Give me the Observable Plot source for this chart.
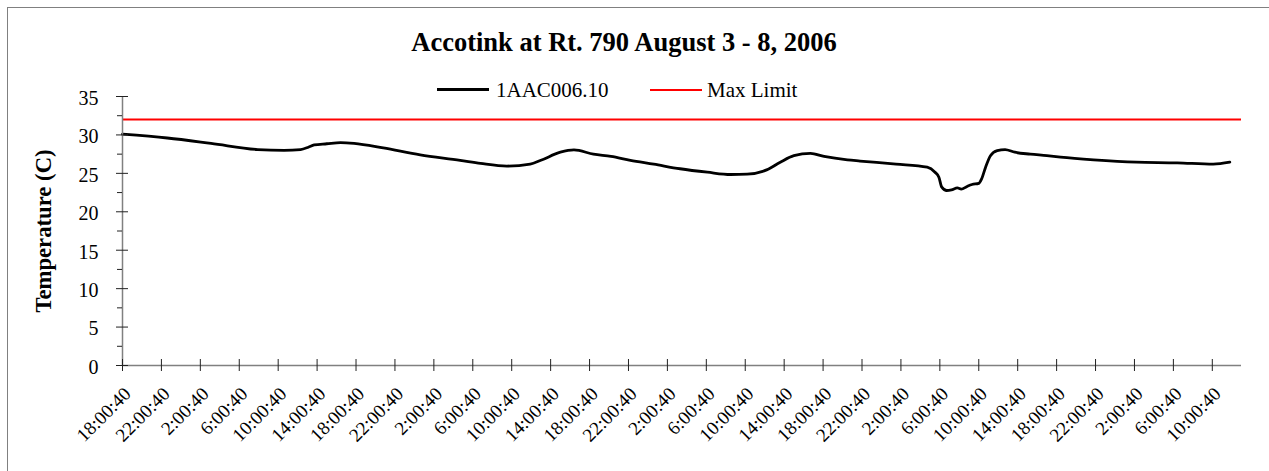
<!DOCTYPE html>
<html>
<head>
<meta charset="utf-8">
<script src="https://cdn.jsdelivr.net/npm/d3@7"></script>
<script src="https://cdn.jsdelivr.net/npm/@observablehq/plot@0.6"></script>
<style>
  html, body { margin: 0; padding: 0; background: #fff; }
  #wrap { position: relative; width: 1269px; height: 471px; overflow: hidden; font-family: "Liberation Serif", "Times New Roman", serif; }
  #frame { position: absolute; left: 7px; top: 7px; width: 1280px; height: 480px; border: 1px solid #808080; box-sizing: border-box; }
  #title { position: absolute; left: 0; width: 1248px; top: 29px; text-align: center; font-weight: bold; font-size: 26.5px; line-height: 26px; }
  .lg { position: absolute; font-size: 21px; line-height: 21px; white-space: nowrap; }
  .sw { position: absolute; }
  #chart { position: absolute; left: 0; top: 0; }
  #chart svg, #chart svg text { font-family: "Liberation Serif", "Times New Roman", serif !important; }
</style>
</head>
<body>
<div id="wrap">
  <div id="frame"></div>
  <div id="chart"></div>
  <div id="title">Accotink at Rt. 790 August 3 - 8, 2006</div>
  <div class="sw" style="left:437px; top:88px; width:52px; height:3px; background:#000;"></div>
  <div class="lg" style="left:496px; top:80px;">1AAC006.10</div>
  <div class="sw" style="left:650px; top:89px; width:52px; height:2px; background:#ff0000;"></div>
  <div class="lg" style="left:707px; top:80px;">Max Limit</div>
</div>
<script>
// Series: hours since 2006-08-03 18:00:40, and temperature (C)
const hoursSinceStart = [0, 4.6, 9.1, 13.9, 16.6, 18.3, 19.1, 19.7, 21.0, 22.4, 23.8, 26.8, 30.6, 34.7, 36.8, 39.5, 41.9, 43.0, 45.0, 46.4, 48.4, 50.2, 52.2, 54.6, 57.3, 60.1, 62.5, 64.2, 66.2, 67.6, 69.0, 70.7, 72.1, 74.5, 75.8, 79.5, 82.7, 83.5, 83.9, 84.2, 84.7, 85.2, 85.8, 86.2, 86.8, 87.3, 88.0, 88.3, 88.7, 89.2, 89.9, 90.7, 91.7, 93.3, 95.0, 96.4, 99.8, 104.2, 108.4, 112.1, 113.8];
const temperature = [30.1, 29.6, 28.9, 28.1, 28.0, 28.1, 28.4, 28.7, 28.85, 29.0, 28.9, 28.3, 27.4, 26.7, 26.3, 25.95, 26.2, 26.7, 27.75, 28.05, 27.5, 27.2, 26.7, 26.2, 25.6, 25.15, 24.85, 24.9, 25.45, 26.45, 27.3, 27.6, 27.2, 26.75, 26.6, 26.2, 25.8, 25.15, 24.5, 23.2, 22.77, 22.85, 23.1, 22.95, 23.3, 23.55, 23.7, 24.3, 25.8, 27.3, 27.97, 28.1, 27.75, 27.5, 27.3, 27.1, 26.75, 26.45, 26.37, 26.2, 26.45];
const maxLimit = [32];
const yMajorTicks = [0, 5, 10, 15, 20, 25, 30, 35];
const yMinorTicks = [2.5, 7.5, 12.5, 17.5, 22.5, 27.5, 32.5];
const tickEveryHours = 4;
const tickCount = 29;
const axisEndHours = 115;

const start = new Date(Date.UTC(2006, 7, 3, 18, 0, 40));
const H = 3600 * 1000;
const data = hoursSinceStart.map((h, i) => ({t: new Date(+start + h * H), v: temperature[i]}));
const xTicks = d3.range(tickCount).map(i => new Date(+start + i * tickEveryHours * H));
const fmt = d3.utcFormat("%-H:%M:%S");
const serif = "Liberation Serif, Times New Roman, serif";

const chart = Plot.plot({
  width: 1269,
  height: 471,
  marginLeft: 122,
  marginRight: 28,
  marginTop: 96,
  marginBottom: 106,
  style: {fontFamily: serif, fontSize: "20px", color: "#000", background: "transparent"},
  x: {type: "utc", domain: [start, new Date(+start + axisEndHours * H)], axis: null},
  y: {domain: [0, 35], axis: null},
  marks: [
    Plot.ruleY(maxLimit, {stroke: "#ff0000", strokeWidth: 2}),
    Plot.line(data, {x: "t", y: "v", stroke: "#000", strokeWidth: 2.8, curve: "monotone-x"}),
    // axis lines
    Plot.ruleX([start], {stroke: "#808080", strokeWidth: 1.5}),
    Plot.ruleY([0], {stroke: "#808080", strokeWidth: 1.5}),
    // y major ticks (crossing) and labels
    Plot.axisY({ticks: yMajorTicks, tickSize: 12, dx: 6, fill: "none", stroke: "#222", label: null}),
    Plot.axisY({ticks: yMinorTicks, tickSize: 5, fill: "none", stroke: "#222", label: null}),
    Plot.axisY({ticks: yMajorTicks, tickSize: 0, tickPadding: 24, dy: 2, fontSize: 20, fontFamily: serif, label: null}),
    // x ticks (crossing) and rotated labels
    Plot.axisX({ticks: xTicks, tickSize: 12, dy: -6, fill: "none", stroke: "#222", label: null}),
    Plot.axisX({ticks: xTicks, tickSize: 0, tickPadding: 20, dx: 0, tickRotate: -45, textAnchor: "end", lineAnchor: "top", tickFormat: fmt, fontSize: 19, fontFamily: serif, label: null}),
    // y axis title
    Plot.text(["Temperature (C)"], {frameAnchor: "left", rotate: -90, dx: -79, textAnchor: "middle", fontWeight: "bold", fontSize: 22.7, fontFamily: serif, fill: "#000"})
  ]
});
document.getElementById("chart").appendChild(chart);
</script>
</body>
</html>
